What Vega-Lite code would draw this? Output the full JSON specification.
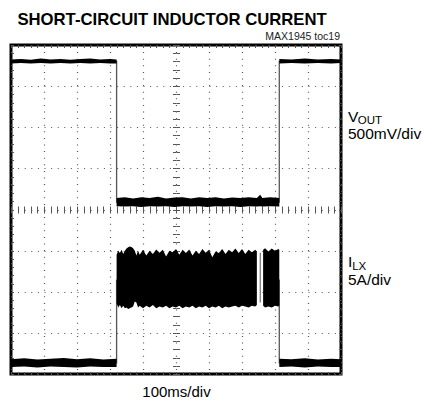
{
  "$schema": "https://vega.github.io/schema/vega-lite/v6.json",
  "width": 330,
  "height": 329,
  "autosize": "none",
  "padding": {"left": 11, "top": 45, "right": 81, "bottom": 30},
  "background": "white",
  "config": {
    "font": "Liberation Sans",
    "view": {"stroke": "black", "strokeWidth": 3}
  },
  "title": {
    "text": "SHORT-CIRCUIT INDUCTOR CURRENT",
    "anchor": "start",
    "dx": 9,
    "dy": 14,
    "offset": 4,
    "baseline": "alphabetic",
    "font": "Liberation Sans",
    "fontSize": 16.7,
    "fontWeight": "bold",
    "color": "black"
  },
  "datasets": {
    "lines": [
      {"trace": "VOUT", "t": 0, "v": 7.6},
      {"trace": "VOUT", "t": 3.2, "v": 7.6},
      {"trace": "VOUT", "t": 3.2, "v": 4.18},
      {"trace": "VOUT", "t": 8.13, "v": 4.18},
      {"trace": "VOUT", "t": 8.13, "v": 7.6},
      {"trace": "VOUT", "t": 10, "v": 7.6},
      {"trace": "ILX-a", "t": 0, "v": 0.27},
      {"trace": "ILX-a", "t": 3.2, "v": 0.27},
      {"trace": "ILX-a", "t": 3.2, "v": 2.3},
      {"trace": "ILX-b", "t": 8.13, "v": 2.3},
      {"trace": "ILX-b", "t": 8.13, "v": 0.27},
      {"trace": "ILX-b", "t": 10, "v": 0.27}
    ],
    "bands": [
      {"seg": "v1", "t": 0, "lo": 7.55, "hi": 7.65},
      {"seg": "v1", "t": 0.3, "lo": 7.56, "hi": 7.66},
      {"seg": "v1", "t": 0.6, "lo": 7.55, "hi": 7.64},
      {"seg": "v1", "t": 0.9, "lo": 7.56, "hi": 7.67},
      {"seg": "v1", "t": 1.2, "lo": 7.55, "hi": 7.65},
      {"seg": "v1", "t": 1.5, "lo": 7.56, "hi": 7.66},
      {"seg": "v1", "t": 1.8, "lo": 7.55, "hi": 7.64},
      {"seg": "v1", "t": 2.1, "lo": 7.56, "hi": 7.66},
      {"seg": "v1", "t": 2.4, "lo": 7.55, "hi": 7.67},
      {"seg": "v1", "t": 2.7, "lo": 7.56, "hi": 7.65},
      {"seg": "v1", "t": 3.0, "lo": 7.55, "hi": 7.66},
      {"seg": "v1", "t": 3.2, "lo": 7.55, "hi": 7.65},
      {"seg": "v2", "t": 3.2, "lo": 4.08, "hi": 4.28},
      {"seg": "v2", "t": 3.45, "lo": 4.07, "hi": 4.3},
      {"seg": "v2", "t": 3.7, "lo": 4.08, "hi": 4.27},
      {"seg": "v2", "t": 3.95, "lo": 4.06, "hi": 4.3},
      {"seg": "v2", "t": 4.2, "lo": 4.08, "hi": 4.28},
      {"seg": "v2", "t": 4.45, "lo": 4.07, "hi": 4.31},
      {"seg": "v2", "t": 4.7, "lo": 4.08, "hi": 4.27},
      {"seg": "v2", "t": 4.95, "lo": 4.06, "hi": 4.29},
      {"seg": "v2", "t": 5.2, "lo": 4.08, "hi": 4.3},
      {"seg": "v2", "t": 5.45, "lo": 4.07, "hi": 4.27},
      {"seg": "v2", "t": 5.7, "lo": 4.08, "hi": 4.3},
      {"seg": "v2", "t": 5.95, "lo": 4.06, "hi": 4.28},
      {"seg": "v2", "t": 6.2, "lo": 4.08, "hi": 4.3},
      {"seg": "v2", "t": 6.45, "lo": 4.07, "hi": 4.27},
      {"seg": "v2", "t": 6.7, "lo": 4.08, "hi": 4.29},
      {"seg": "v2", "t": 6.95, "lo": 4.06, "hi": 4.28},
      {"seg": "v2", "t": 7.2, "lo": 4.08, "hi": 4.3},
      {"seg": "v2", "t": 7.45, "lo": 4.07, "hi": 4.28},
      {"seg": "v2", "t": 7.55, "lo": 4.08, "hi": 4.36},
      {"seg": "v2", "t": 7.62, "lo": 4.07, "hi": 4.28},
      {"seg": "v2", "t": 7.85, "lo": 4.08, "hi": 4.3},
      {"seg": "v2", "t": 8.13, "lo": 4.07, "hi": 4.28},
      {"seg": "v3", "t": 8.13, "lo": 7.55, "hi": 7.66},
      {"seg": "v3", "t": 8.5, "lo": 7.56, "hi": 7.65},
      {"seg": "v3", "t": 8.9, "lo": 7.55, "hi": 7.67},
      {"seg": "v3", "t": 9.3, "lo": 7.56, "hi": 7.65},
      {"seg": "v3", "t": 9.7, "lo": 7.55, "hi": 7.66},
      {"seg": "v3", "t": 10, "lo": 7.56, "hi": 7.65},
      {"seg": "i1", "t": 0, "lo": 0.17, "hi": 0.36},
      {"seg": "i1", "t": 0.4, "lo": 0.18, "hi": 0.38},
      {"seg": "i1", "t": 0.8, "lo": 0.16, "hi": 0.35},
      {"seg": "i1", "t": 1.2, "lo": 0.18, "hi": 0.37},
      {"seg": "i1", "t": 1.6, "lo": 0.17, "hi": 0.39},
      {"seg": "i1", "t": 2.0, "lo": 0.16, "hi": 0.36},
      {"seg": "i1", "t": 2.4, "lo": 0.18, "hi": 0.38},
      {"seg": "i1", "t": 2.8, "lo": 0.17, "hi": 0.35},
      {"seg": "i1", "t": 3.2, "lo": 0.17, "hi": 0.37},
      {"seg": "i2a", "t": 3.2, "lo": 1.72, "hi": 2.9},
      {"seg": "i2a", "t": 3.25, "lo": 1.62, "hi": 3.0},
      {"seg": "i2a", "t": 3.3, "lo": 1.68, "hi": 2.94},
      {"seg": "i2a", "t": 3.35, "lo": 1.6, "hi": 3.02},
      {"seg": "i2a", "t": 3.4, "lo": 1.66, "hi": 2.92},
      {"seg": "i2a", "t": 3.45, "lo": 1.6, "hi": 3.0},
      {"seg": "i2a", "t": 3.5, "lo": 1.62, "hi": 3.05},
      {"seg": "i2a", "t": 3.55, "lo": 1.58, "hi": 3.08},
      {"seg": "i2a", "t": 3.6, "lo": 1.6, "hi": 3.1},
      {"seg": "i2a", "t": 3.65, "lo": 1.62, "hi": 3.09},
      {"seg": "i2a", "t": 3.7, "lo": 1.64, "hi": 3.06},
      {"seg": "i2a", "t": 3.75, "lo": 1.76, "hi": 3.0},
      {"seg": "i2a", "t": 3.8, "lo": 1.74, "hi": 2.88},
      {"seg": "i2a", "t": 3.85, "lo": 1.62, "hi": 3.0},
      {"seg": "i2a", "t": 3.9, "lo": 1.66, "hi": 2.9},
      {"seg": "i2a", "t": 4.0, "lo": 1.6, "hi": 3.02},
      {"seg": "i2a", "t": 4.1, "lo": 1.66, "hi": 2.88},
      {"seg": "i2a", "t": 4.2, "lo": 1.62, "hi": 3.0},
      {"seg": "i2a", "t": 4.3, "lo": 1.68, "hi": 2.92},
      {"seg": "i2a", "t": 4.4, "lo": 1.6, "hi": 3.03},
      {"seg": "i2a", "t": 4.5, "lo": 1.64, "hi": 2.95},
      {"seg": "i2a", "t": 4.6, "lo": 1.62, "hi": 3.02},
      {"seg": "i2a", "t": 4.7, "lo": 1.66, "hi": 2.86},
      {"seg": "i2a", "t": 4.8, "lo": 1.6, "hi": 3.0},
      {"seg": "i2a", "t": 4.9, "lo": 1.64, "hi": 2.96},
      {"seg": "i2a", "t": 5.0, "lo": 1.62, "hi": 3.04},
      {"seg": "i2a", "t": 5.1, "lo": 1.66, "hi": 2.9},
      {"seg": "i2a", "t": 5.2, "lo": 1.6, "hi": 3.02},
      {"seg": "i2a", "t": 5.3, "lo": 1.64, "hi": 2.94},
      {"seg": "i2a", "t": 5.4, "lo": 1.62, "hi": 3.03},
      {"seg": "i2a", "t": 5.5, "lo": 1.66, "hi": 2.88},
      {"seg": "i2a", "t": 5.6, "lo": 1.6, "hi": 3.0},
      {"seg": "i2a", "t": 5.7, "lo": 1.64, "hi": 2.92},
      {"seg": "i2a", "t": 5.8, "lo": 1.62, "hi": 3.04},
      {"seg": "i2a", "t": 5.9, "lo": 1.66, "hi": 2.95},
      {"seg": "i2a", "t": 6.0, "lo": 1.6, "hi": 3.02},
      {"seg": "i2a", "t": 6.1, "lo": 1.64, "hi": 2.84},
      {"seg": "i2a", "t": 6.2, "lo": 1.62, "hi": 2.98},
      {"seg": "i2a", "t": 6.3, "lo": 1.66, "hi": 2.94},
      {"seg": "i2a", "t": 6.4, "lo": 1.6, "hi": 3.04},
      {"seg": "i2a", "t": 6.5, "lo": 1.64, "hi": 2.92},
      {"seg": "i2a", "t": 6.6, "lo": 1.62, "hi": 3.02},
      {"seg": "i2a", "t": 6.7, "lo": 1.64, "hi": 2.96},
      {"seg": "i2a", "t": 6.8, "lo": 1.66, "hi": 3.05},
      {"seg": "i2a", "t": 6.9, "lo": 1.62, "hi": 2.94},
      {"seg": "i2a", "t": 7.0, "lo": 1.66, "hi": 3.04},
      {"seg": "i2a", "t": 7.1, "lo": 1.64, "hi": 2.92},
      {"seg": "i2a", "t": 7.2, "lo": 1.62, "hi": 3.02},
      {"seg": "i2a", "t": 7.3, "lo": 1.66, "hi": 2.96},
      {"seg": "i2a", "t": 7.4, "lo": 1.64, "hi": 3.02},
      {"seg": "i2a", "t": 7.45, "lo": 1.68, "hi": 2.98},
      {"seg": "i2g", "t": 7.54, "lo": 1.74, "hi": 2.95},
      {"seg": "i2g", "t": 7.56, "lo": 1.74, "hi": 2.95},
      {"seg": "i2b", "t": 7.64, "lo": 1.66, "hi": 3.02},
      {"seg": "i2b", "t": 7.7, "lo": 1.62, "hi": 3.06},
      {"seg": "i2b", "t": 7.8, "lo": 1.64, "hi": 2.98},
      {"seg": "i2b", "t": 7.9, "lo": 1.62, "hi": 3.05},
      {"seg": "i2b", "t": 8.0, "lo": 1.66, "hi": 3.0},
      {"seg": "i2b", "t": 8.1, "lo": 1.64, "hi": 3.04},
      {"seg": "i2b", "t": 8.13, "lo": 1.66, "hi": 3.02},
      {"seg": "i3", "t": 8.13, "lo": 0.17, "hi": 0.37},
      {"seg": "i3", "t": 8.5, "lo": 0.18, "hi": 0.36},
      {"seg": "i3", "t": 8.9, "lo": 0.16, "hi": 0.38},
      {"seg": "i3", "t": 9.3, "lo": 0.18, "hi": 0.35},
      {"seg": "i3", "t": 9.7, "lo": 0.17, "hi": 0.37},
      {"seg": "i3", "t": 10, "lo": 0.17, "hi": 0.36}
    ],
    "labels": [
      {"label": "V", "t": 10.21, "v": 6.135},
      {"label": "500mV/div", "t": 10.21, "v": 5.71},
      {"label": "I", "t": 10.21, "v": 2.61},
      {"label": "5A/div", "t": 10.21, "v": 2.164}
    ],
    "subs": [
      {"label": "OUT", "t": 10.51, "v": 6.07},
      {"label": "LX", "t": 10.34, "v": 2.53}
    ],
    "notes": [
      {"label": "MAX1945 toc19", "t": 9.97, "v": 8.12}
    ]
  },
  "resolve": {"axis": {"x": "independent", "y": "independent"}},
  "layer": [
    {
      "data": {"name": "lines"},
      "mark": {"type": "line", "color": "#555555", "strokeWidth": 1.3},
      "encoding": {
        "x": {
          "field": "t", "type": "quantitative",
          "scale": {"domain": [0, 10], "nice": false, "zero": false},
          "axis": {
            "orient": "bottom",
            "values": [0, 1, 2, 3, 4, 5, 6, 7, 8, 9, 10],
            "grid": true, "gridDash": [1, 5.6], "gridColor": "#555555", "gridWidth": 1.2,
            "ticks": false, "labels": false, "domain": false,
            "title": "100ms/div", "titleFontSize": 15, "titleFontWeight": "normal",
            "titleColor": "black", "titlePadding": 10, "titleFont": "Liberation Sans"
          }
        },
        "y": {
          "field": "v", "type": "quantitative",
          "scale": {"domain": [0, 8], "nice": false, "zero": false},
          "axis": {
            "orient": "left",
            "values": [0, 1, 2, 3, 4, 5, 6, 7, 8],
            "grid": true, "gridDash": [1, 5.6], "gridColor": "#555555", "gridWidth": 1.2,
            "ticks": false, "labels": false, "domain": false, "title": null
          }
        },
        "detail": {"field": "trace"},
        "order": {"value": null}
      }
    },
    {
      "data": {"name": "bands"},
      "mark": {"type": "area", "color": "black", "opacity": 1},
      "encoding": {
        "x": {
          "field": "t", "type": "quantitative",
          "scale": {"domain": [0, 10], "nice": false, "zero": false},
          "axis": {
            "orient": "bottom", "offset": -164.5,
            "values": [0,0.2,0.4,0.6,0.8,1,1.2,1.4,1.6,1.8,2,2.2,2.4,2.6,2.8,3,3.2,3.4,3.6,3.8,4,4.2,4.4,4.6,4.8,5,5.2,5.4,5.6,5.8,6,6.2,6.4,6.6,6.8,7,7.2,7.4,7.6,7.8,8,8.2,8.4,8.6,8.8,9,9.2,9.4,9.6,9.8,10],
            "grid": false, "ticks": true, "tickSize": 3.5, "tickColor": "#555555", "tickWidth": 1,
            "labels": false, "domain": false, "title": null
          }
        },
        "y": {
          "field": "lo", "type": "quantitative",
          "scale": {"domain": [0, 8], "nice": false, "zero": false},
          "axis": {
            "orient": "left", "offset": -165,
            "values": [0,0.2,0.4,0.6,0.8,1,1.2,1.4,1.6,1.8,2,2.2,2.4,2.6,2.8,3,3.2,3.4,3.6,3.8,4,4.2,4.4,4.6,4.8,5,5.2,5.4,5.6,5.8,6,6.2,6.4,6.6,6.8,7,7.2,7.4,7.6,7.8,8],
            "grid": false, "ticks": true, "tickSize": 3.5, "tickColor": "#555555", "tickWidth": 1,
            "labels": false, "domain": false, "title": null
          }
        },
        "y2": {"field": "hi"},
        "detail": {"field": "seg"}
      }
    },
    {
      "data": {"name": "labels"},
      "mark": {"type": "text", "align": "left", "baseline": "alphabetic", "fontSize": 15.5, "color": "black", "font": "Liberation Sans"},
      "encoding": {
        "x": {
          "field": "t", "type": "quantitative",
          "scale": {"domain": [0, 10], "nice": false, "zero": false},
          "axis": {
            "orient": "top", "offset": -164.5,
            "values": [0,0.2,0.4,0.6,0.8,1,1.2,1.4,1.6,1.8,2,2.2,2.4,2.6,2.8,3,3.2,3.4,3.6,3.8,4,4.2,4.4,4.6,4.8,5,5.2,5.4,5.6,5.8,6,6.2,6.4,6.6,6.8,7,7.2,7.4,7.6,7.8,8,8.2,8.4,8.6,8.8,9,9.2,9.4,9.6,9.8,10],
            "grid": false, "ticks": true, "tickSize": 3.5, "tickColor": "#555555", "tickWidth": 1,
            "labels": false, "domain": false, "title": null
          }
        },
        "y": {
          "field": "v", "type": "quantitative",
          "scale": {"domain": [0, 8], "nice": false, "zero": false},
          "axis": {
            "orient": "right", "offset": -165,
            "values": [0,0.2,0.4,0.6,0.8,1,1.2,1.4,1.6,1.8,2,2.2,2.4,2.6,2.8,3,3.2,3.4,3.6,3.8,4,4.2,4.4,4.6,4.8,5,5.2,5.4,5.6,5.8,6,6.2,6.4,6.6,6.8,7,7.2,7.4,7.6,7.8,8],
            "grid": false, "ticks": true, "tickSize": 3.5, "tickColor": "#555555", "tickWidth": 1,
            "labels": false, "domain": false, "title": null
          }
        },
        "text": {"field": "label"}
      }
    },
    {
      "data": {"name": "subs"},
      "mark": {"type": "text", "align": "left", "baseline": "alphabetic", "fontSize": 11.5, "color": "black", "font": "Liberation Sans"},
      "encoding": {
        "x": {
          "field": "t", "type": "quantitative",
          "scale": {"domain": [0, 10], "nice": false, "zero": false},
          "axis": {
            "orient": "bottom", "offset": -329,
            "values": [0,0.2,0.4,0.6,0.8,1,1.2,1.4,1.6,1.8,2,2.2,2.4,2.6,2.8,3,3.2,3.4,3.6,3.8,4,4.2,4.4,4.6,4.8,5,5.2,5.4,5.6,5.8,6,6.2,6.4,6.6,6.8,7,7.2,7.4,7.6,7.8,8,8.2,8.4,8.6,8.8,9,9.2,9.4,9.6,9.8,10],
            "grid": false, "ticks": true, "tickSize": 2.5, "tickColor": "#555555", "tickWidth": 1,
            "labels": false, "domain": false, "title": null
          }
        },
        "y": {
          "field": "v", "type": "quantitative",
          "scale": {"domain": [0, 8], "nice": false, "zero": false},
          "axis": {
            "orient": "left", "offset": -330,
            "values": [0,0.2,0.4,0.6,0.8,1,1.2,1.4,1.6,1.8,2,2.2,2.4,2.6,2.8,3,3.2,3.4,3.6,3.8,4,4.2,4.4,4.6,4.8,5,5.2,5.4,5.6,5.8,6,6.2,6.4,6.6,6.8,7,7.2,7.4,7.6,7.8,8],
            "grid": false, "ticks": true, "tickSize": 2.5, "tickColor": "#555555", "tickWidth": 1,
            "labels": false, "domain": false, "title": null
          }
        },
        "text": {"field": "label"}
      }
    },
    {
      "data": {"name": "notes"},
      "mark": {"type": "text", "align": "right", "baseline": "alphabetic", "fontSize": 10.5, "color": "#222222", "font": "Liberation Sans"},
      "encoding": {
        "x": {
          "field": "t", "type": "quantitative",
          "scale": {"domain": [0, 10], "nice": false, "zero": false},
          "axis": {
            "orient": "top", "offset": -329,
            "values": [0,0.2,0.4,0.6,0.8,1,1.2,1.4,1.6,1.8,2,2.2,2.4,2.6,2.8,3,3.2,3.4,3.6,3.8,4,4.2,4.4,4.6,4.8,5,5.2,5.4,5.6,5.8,6,6.2,6.4,6.6,6.8,7,7.2,7.4,7.6,7.8,8,8.2,8.4,8.6,8.8,9,9.2,9.4,9.6,9.8,10],
            "grid": false, "ticks": true, "tickSize": 2.5, "tickColor": "#555555", "tickWidth": 1,
            "labels": false, "domain": false, "title": null
          }
        },
        "y": {
          "field": "v", "type": "quantitative",
          "scale": {"domain": [0, 8], "nice": false, "zero": false},
          "axis": {
            "orient": "right", "offset": -330,
            "values": [0,0.2,0.4,0.6,0.8,1,1.2,1.4,1.6,1.8,2,2.2,2.4,2.6,2.8,3,3.2,3.4,3.6,3.8,4,4.2,4.4,4.6,4.8,5,5.2,5.4,5.6,5.8,6,6.2,6.4,6.6,6.8,7,7.2,7.4,7.6,7.8,8],
            "grid": false, "ticks": true, "tickSize": 2.5, "tickColor": "#555555", "tickWidth": 1,
            "labels": false, "domain": false, "title": null
          }
        },
        "text": {"field": "label"}
      }
    }
  ]
}
